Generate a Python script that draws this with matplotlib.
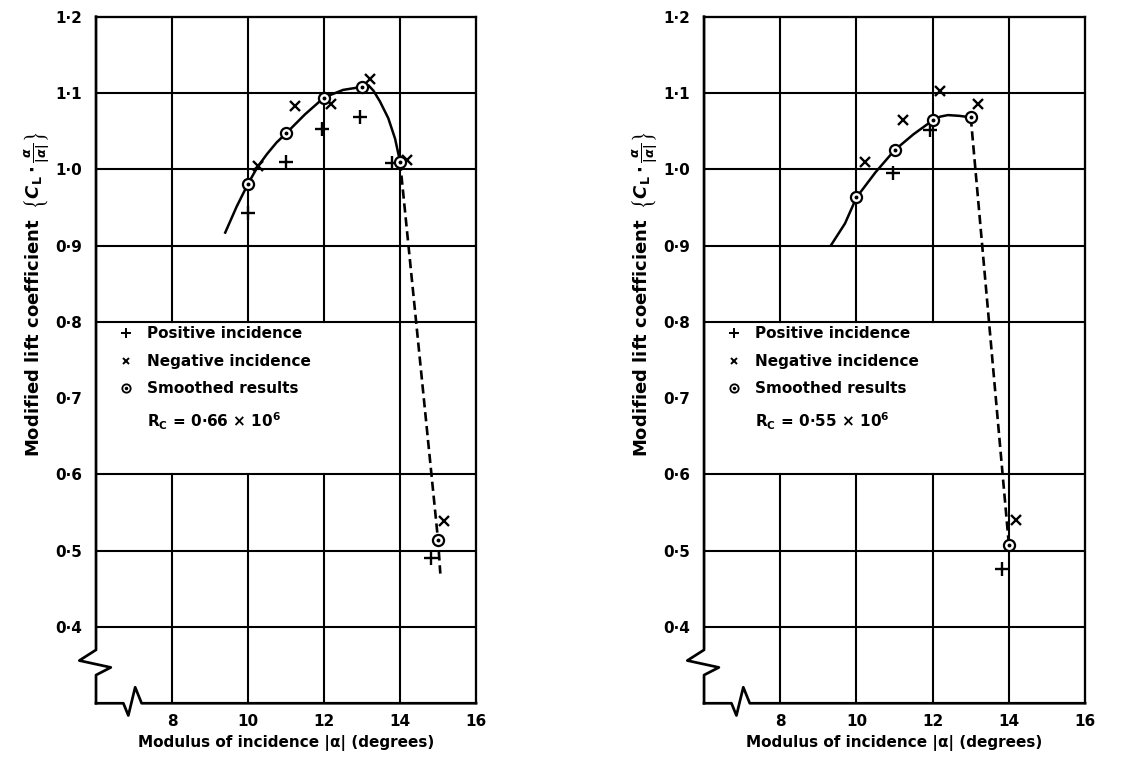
import matplotlib.pyplot as plt

plt.rcParams['font.family'] = ['DejaVu Sans']
plt.rcParams['font.weight'] = 'bold'
plt.rcParams['mathtext.fontset'] = 'dejavusans'

# axis ticks
x_ticks = [8, 10, 12, 14, 16]
x_labels = ["8", "10", "12", "14", "16"]
y_ticks = [0.4, 0.5, 0.6, 0.7, 0.8, 0.9, 1.0, 1.1, 1.2]
y_labels = ["0·4", "0·5", "0·6", "0·7", "0·8", "0·9", "1·0", "1·1", "1·2"]

# left chart, Rc = 0.66e6
pos_x_a = [10.0, 11.0, 11.95, 12.95, 13.8, 14.82]
pos_y_a = [0.943, 1.009, 1.053, 1.069, 1.008, 0.490]
neg_x_a = [10.27, 11.24, 12.18, 13.2, 14.18, 15.17]
neg_y_a = [1.004, 1.083, 1.086, 1.118, 1.012, 0.539]
smooth_x_a = [10, 11, 12, 13, 14, 15]
smooth_y_a = [0.981, 1.047, 1.094, 1.108, 1.010, 0.514]
curve_x_a = [9.4, 9.7, 10.0, 10.25, 10.5, 10.75, 11.0, 11.5, 12.0, 12.5, 13.0, 13.17, 13.3, 13.47, 13.69, 13.87, 14.0]
curve_y_a = [0.917, 0.951, 0.981, 1.003, 1.020, 1.035, 1.047, 1.072, 1.094, 1.104, 1.108, 1.110, 1.103, 1.089, 1.067, 1.040, 1.010]
dash_x_a = [14.0, 15.0, 15.06]
dash_y_a = [1.010, 0.514, 0.470]
rc_a = "0·66"

# right chart, Rc = 0.55e6
pos_x_b = [10.95, 11.94, 13.82]
pos_y_b = [0.995, 1.052, 0.476]
neg_x_b = [10.22, 11.21, 12.19, 13.2, 14.18]
neg_y_b = [1.010, 1.064, 1.102, 1.085, 0.540]
smooth_x_b = [10, 11, 12, 13, 14]
smooth_y_b = [0.963, 1.025, 1.064, 1.068, 0.508]
curve_x_b = [9.34, 9.7, 10.0, 10.5, 11.0, 11.5, 12.0, 12.2, 12.4, 12.7, 13.0]
curve_y_b = [0.901, 0.929, 0.963, 0.996, 1.025, 1.046, 1.064, 1.069, 1.071, 1.070, 1.068]
dash_x_b = [13.0, 14.0]
dash_y_b = [1.068, 0.508]
rc_b = "0·55"

LW = 1.5
FS = 11


def draw_frame(ax):
    ax.set_xlim(6, 16)
    ax.set_ylim(0.3, 1.2)
    ax.spines['left'].set_visible(False)
    ax.spines['bottom'].set_visible(False)
    for s in ['top', 'right']:
        ax.spines[s].set_linewidth(LW * 1.1)
    # grid, the legend box blanks the 0.7 row
    for y in [0.4, 0.5, 0.6, 0.8, 0.9, 1.0, 1.1]:
        ax.plot([6, 16], [y, y], color='black', lw=LW, zorder=1)
    for x in [8, 10, 12]:
        ax.plot([x, x], [0.3, 0.6], color='black', lw=LW, zorder=1)
        ax.plot([x, x], [0.8, 1.2], color='black', lw=LW, zorder=1)
    ax.plot([14, 14], [0.3, 1.2], color='black', lw=LW, zorder=1)
    # broken axes
    ax.plot([6, 6, 5.56, 6.39, 6, 6], [1.2, 0.37, 0.356, 0.347, 0.337, 0.3],
            color='black', lw=LW * 1.3, clip_on=False, zorder=3)
    ax.plot([6, 6.72, 6.85, 7.03, 7.2, 16], [0.3, 0.3, 0.284, 0.321, 0.3, 0.3],
            color='black', lw=LW * 1.3, clip_on=False, zorder=3)
    ax.set_xticks(x_ticks)
    ax.set_xticklabels(x_labels, fontsize=FS, fontweight='bold')
    ax.set_yticks(y_ticks)
    ax.set_yticklabels(y_labels, fontsize=FS, fontweight='bold')
    ax.tick_params(length=0, pad=10)
    ax.tick_params(axis='x', pad=8)
    ax.set_xlabel("Modulus of incidence |α| (degrees)", fontsize=FS, fontweight='bold', labelpad=4)
    ax.text(-0.154, 0.595, "Modified lift coefficient  " + r"$\left\{C_\mathbf{L}\cdot\frac{\alpha}{|\alpha|}\right\}$",
            transform=ax.transAxes, rotation=90, ha='center', va='center', fontsize=13, fontweight='bold')


def smoothed(ax, x, y, ms=8):
    ax.plot(x, y, 'o', ms=ms, mfc='white', mec='black', mew=1.6, zorder=5, clip_on=False)
    ax.plot(x, y, 'o', ms=1.8, color='black', zorder=6, clip_on=False)


def draw_panel(ax, pos_x, pos_y, neg_x, neg_y, sm_x, sm_y, cx, cy, dx, dy, rc):
    draw_frame(ax)
    ax.plot(cx, cy, color='black', lw=1.8, zorder=4)
    ax.plot(dx, dy, color='black', lw=1.9, ls=(0, (3.5, 1.8)), zorder=4)
    ax.plot(pos_x, pos_y, '+', ms=10, mew=1.7, color='black', zorder=5)
    ax.plot(neg_x, neg_y, 'x', ms=7, mew=1.7, color='black', zorder=5)
    smoothed(ax, sm_x, sm_y)
    # key
    ax.plot([0.079], [0.539], '+', ms=7, mew=1.4, color='black', transform=ax.transAxes)
    ax.plot([0.079], [0.498], 'x', ms=5, mew=1.4, color='black', transform=ax.transAxes)
    ax.plot([0.079], [0.459], 'o', ms=6, mfc='white', mec='black', mew=1.3, transform=ax.transAxes)
    ax.plot([0.079], [0.459], 'o', ms=1.5, color='black', transform=ax.transAxes)
    for yy, txt in zip([0.539, 0.498, 0.459], ["Positive incidence", "Negative incidence", "Smoothed results"]):
        ax.text(0.133, yy, txt, transform=ax.transAxes, va='center', fontsize=FS, fontweight='bold')
    ax.text(0.133, 0.41, r"R$_\mathbf{C}$ = " + rc + r" × 10$^\mathbf{6}$", transform=ax.transAxes,
            va='center', fontsize=FS, fontweight='bold')


fig = plt.figure(figsize=(11.31, 7.58), dpi=100)
ax1 = fig.add_axes([0.0849, 0.0722, 0.336, 0.9058])
ax2 = fig.add_axes([0.6225, 0.0722, 0.3369, 0.9058])

draw_panel(ax1, pos_x_a, pos_y_a, neg_x_a, neg_y_a, smooth_x_a, smooth_y_a,
           curve_x_a, curve_y_a, dash_x_a, dash_y_a, rc_a)
draw_panel(ax2, pos_x_b, pos_y_b, neg_x_b, neg_y_b, smooth_x_b, smooth_y_b,
           curve_x_b, curve_y_b, dash_x_b, dash_y_b, rc_b)

fig.savefig("out.png", dpi=100)
